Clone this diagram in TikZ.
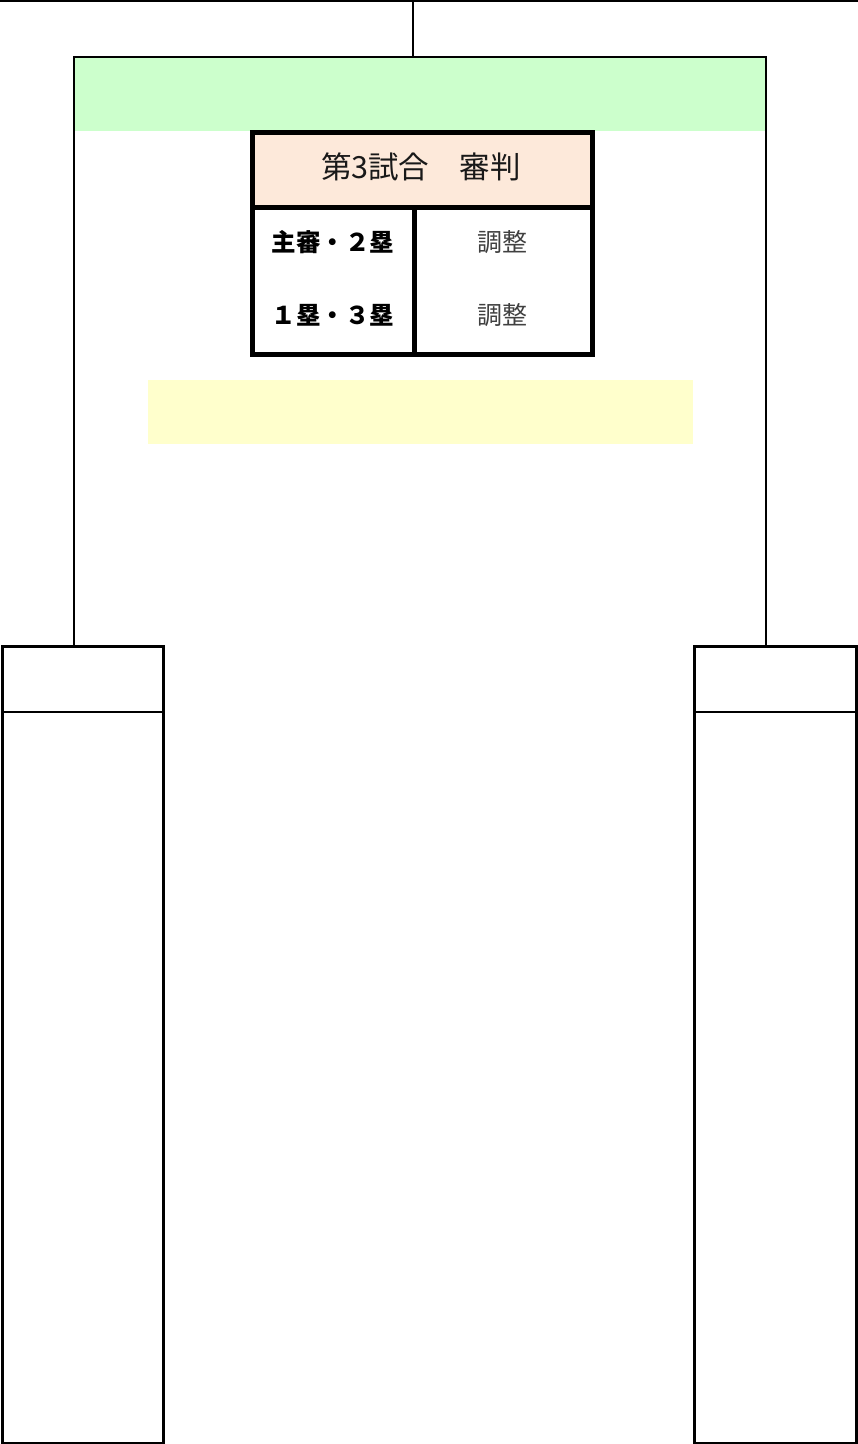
\documentclass[tikz,border=0pt]{standalone}
\usepackage{fontspec}
\newfontfamily\jp{Noto Sans CJK JP}
\begin{document}
\begin{tikzpicture}[x=1pt,y=-1pt,
  thin line/.style={line width=2.5pt,black},
  plainbox/.style={draw,line width=2.5pt,inner sep=0pt,anchor=north west,fill=white},
  tablebox/.style={draw,line width=4.5pt,inner sep=0pt,anchor=north west},
  band/.style={inner sep=0pt,anchor=north west,draw=none},
  headtxt/.style={font=\jp\fontsize{30.5}{34}\selectfont,text=black!90},
  rowtxt/.style={font=\jp\bfseries\fontsize{24.5}{28}\selectfont,text=black},
  celltxt/.style={font=\jp\fontsize{25}{29}\selectfont,text=black!75}]
\useasboundingbox (0,0) rectangle (858,1444);
% top rule and drop
\coordinate (tl) at (0,1);
\coordinate (tr) at (858,1);
\draw[thin line] (tl) -- (tr);
\coordinate (drop) at (413,0);
\coordinate (bl) at (74,57);
\coordinate (br) at (766,57);
\coordinate (bt) at (413,57);
% green band
\node[band,fill={rgb,255:red,204;green,255;blue,204},minimum width=690pt,minimum height=74pt] (green) at (75,57) {};
% yellow band
\node[band,fill={rgb,255:red,255;green,255;blue,204},minimum width=545pt,minimum height=64pt] (yellow) at (148,380) {};
% bracket
\draw[thin line] (drop) -- (bt);
\coordinate (la) at (74,645);
\coordinate (ra) at (766,645);
\draw[thin line] (la) -- (bl) -- (br) -- (ra);
% lower boxes
\node[plainbox,minimum width=161pt,minimum height=797pt] (lbox) at (1,645) {};
\node[plainbox,minimum width=162pt,minimum height=797pt] (rbox) at (693,645) {};
\draw[thin line] (1,712) -- (162,712);
\draw[thin line] (693,712) -- (855,712);
% table
\node[tablebox,fill={rgb,255:red,253;green,233;blue,218},minimum width=340pt,minimum height=75pt] (head) at (250,130) {};
\node[tablebox,minimum width=162pt,minimum height=147pt] (lcol) at (250,205) {};
\node[tablebox,minimum width=178pt,minimum height=147pt] (rcol) at (412,205) {};
\node[headtxt] (t0) at (421,167) {第3試合　審判};
\node[rowtxt] (t1) at (333,242) {主審・２塁};
\node[rowtxt] (t2) at (333,315) {１塁・３塁};
\node[celltxt] (t3) at (502,242) {調整};
\node[celltxt] (t4) at (502,315) {調整};
\end{tikzpicture}
\end{document}
